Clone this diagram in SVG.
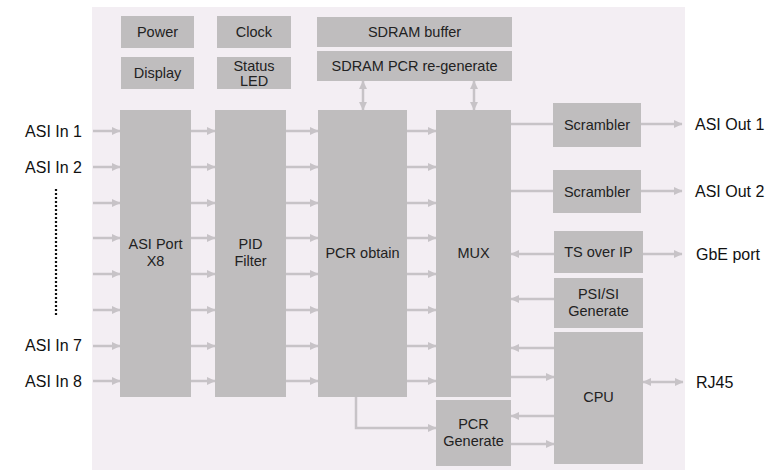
<svg xmlns="http://www.w3.org/2000/svg" width="776" height="471" viewBox="0 0 776 471">
<defs>
<style>
.box{fill:#bfbdbe}
.t{font-family:"Liberation Sans",Arial,sans-serif;font-size:14.5px;fill:#222;text-anchor:middle}
.o{font-family:"Liberation Sans",Arial,sans-serif;font-size:16px;fill:#111}
.c{stroke:#c7c3c7;stroke-width:2.5;fill:none}
.a{marker-end:url(#ah)}
.b{marker-start:url(#ah);marker-end:url(#ah)}
</style>
<marker id="ah" markerUnits="userSpaceOnUse" markerWidth="9" markerHeight="9" refX="8" refY="4.5" orient="auto-start-reverse">
<path d="M0,0.5 L8.5,4.5 L0,8.5 Z" fill="#c7c3c7"/>
</marker>
</defs>
<rect x="0" y="0" width="776" height="471" fill="#fff"/>
<rect x="92" y="7" width="593" height="463" fill="#f3eef3"/>

<g id="power"><rect class="box" x="121" y="16" width="73" height="32"/><text class="t" x="157.5" y="37">Power</text></g>
<g id="display"><rect class="box" x="121" y="57" width="73" height="32"/><text class="t" x="157.5" y="78">Display</text></g>
<g id="clock"><rect class="box" x="217" y="16" width="74" height="32"/><text class="t" x="254" y="37">Clock</text></g>
<g id="status-led"><rect class="box" x="217" y="57" width="74" height="32"/><text class="t" x="254" y="70.5">Status</text><text class="t" x="254" y="85.5">LED</text></g>
<g id="sdram-buffer"><rect class="box" x="317" y="17" width="195" height="30"/><text class="t" x="414.5" y="37">SDRAM buffer</text></g>
<g id="sdram-pcr"><rect class="box" x="317" y="51" width="195" height="30"/><text class="t" x="414.5" y="71">SDRAM PCR re-generate</text></g>

<g id="asi-port"><rect class="box" x="120" y="110" width="71" height="287"/><text class="t" x="155.5" y="249">ASI Port</text><text class="t" x="155.5" y="266">X8</text></g>
<g id="pid-filter"><rect class="box" x="215" y="110" width="71" height="287"/><text class="t" x="250.5" y="249">PID</text><text class="t" x="250.5" y="266">Filter</text></g>
<g id="pcr-obtain"><rect class="box" x="318" y="110" width="89" height="287"/><text class="t" x="362.5" y="258">PCR obtain</text></g>
<g id="mux"><rect class="box" x="436" y="110" width="75" height="287"/><text class="t" x="473.5" y="258">MUX</text></g>
<g id="pcr-generate"><rect class="box" x="436" y="400" width="75" height="66"/><text class="t" x="473.5" y="429">PCR</text><text class="t" x="473.5" y="446">Generate</text></g>

<g id="scrambler1"><rect class="box" x="553" y="103" width="88" height="44"/><text class="t" x="597" y="130">Scrambler</text></g>
<g id="scrambler2"><rect class="box" x="553" y="170" width="88" height="43"/><text class="t" x="597" y="196.5">Scrambler</text></g>
<g id="ts-over-ip"><rect class="box" x="554" y="231" width="89" height="42"/><text class="t" x="598.5" y="257">TS over IP</text></g>
<g id="psi-si"><rect class="box" x="554" y="278" width="89" height="50"/><text class="t" x="598.5" y="299">PSI/SI</text><text class="t" x="598.5" y="316">Generate</text></g>
<g id="cpu"><rect class="box" x="554" y="332" width="89" height="132"/><text class="t" x="598.5" y="402">CPU</text></g>

<g id="labels">
<text class="o" x="82" y="137" text-anchor="end">ASI In 1</text>
<text class="o" x="82" y="173" text-anchor="end">ASI In 2</text>
<text class="o" x="82" y="351" text-anchor="end">ASI In 7</text>
<text class="o" x="82" y="387" text-anchor="end">ASI In 8</text>
<text class="o" x="695" y="130">ASI Out 1</text>
<text class="o" x="695" y="197">ASI Out 2</text>
<text class="o" x="696" y="260">GbE port</text>
<text class="o" x="696" y="388">RJ45</text>
<line x1="56" y1="189" x2="56" y2="315" stroke="#111" stroke-width="2.2" stroke-dasharray="2,2"/>
</g>

<g id="connectors">
<g class="c a">
<line x1="93" y1="131" x2="120" y2="131"/><line x1="93" y1="167" x2="120" y2="167"/><line x1="93" y1="203" x2="120" y2="203"/><line x1="93" y1="238" x2="120" y2="238"/><line x1="93" y1="274" x2="120" y2="274"/><line x1="93" y1="310" x2="120" y2="310"/><line x1="93" y1="346" x2="120" y2="346"/><line x1="93" y1="381" x2="120" y2="381"/>
<line x1="191" y1="131" x2="215" y2="131"/><line x1="191" y1="167" x2="215" y2="167"/><line x1="191" y1="203" x2="215" y2="203"/><line x1="191" y1="238" x2="215" y2="238"/><line x1="191" y1="274" x2="215" y2="274"/><line x1="191" y1="310" x2="215" y2="310"/><line x1="191" y1="346" x2="215" y2="346"/><line x1="191" y1="381" x2="215" y2="381"/>
<line x1="286" y1="131" x2="318" y2="131"/><line x1="286" y1="167" x2="318" y2="167"/><line x1="286" y1="203" x2="318" y2="203"/><line x1="286" y1="238" x2="318" y2="238"/><line x1="286" y1="274" x2="318" y2="274"/><line x1="286" y1="310" x2="318" y2="310"/><line x1="286" y1="346" x2="318" y2="346"/><line x1="286" y1="381" x2="318" y2="381"/>
<line x1="407" y1="131" x2="436" y2="131"/><line x1="407" y1="167" x2="436" y2="167"/><line x1="407" y1="203" x2="436" y2="203"/><line x1="407" y1="238" x2="436" y2="238"/><line x1="407" y1="274" x2="436" y2="274"/><line x1="407" y1="310" x2="436" y2="310"/><line x1="407" y1="346" x2="436" y2="346"/><line x1="407" y1="381" x2="436" y2="381"/>
<line x1="641" y1="124" x2="682" y2="124"/>
<line x1="641" y1="191" x2="682" y2="191"/>
<line x1="643" y1="254" x2="682" y2="254"/>
<line x1="554" y1="254" x2="511" y2="254"/>
<line x1="554" y1="299" x2="511" y2="299"/>
<line x1="554" y1="348" x2="511" y2="348"/>
<line x1="511" y1="377" x2="554" y2="377"/>
<line x1="554" y1="416" x2="511" y2="416"/>
<line x1="511" y1="444" x2="554" y2="444"/>
<polyline points="356,397 356,428 436,428"/>
</g>
<g class="c">
<line x1="511" y1="124" x2="553" y2="124"/>
<line x1="511" y1="191" x2="553" y2="191"/>
</g>
<g class="c b">
<line x1="363" y1="81" x2="363" y2="110"/>
<line x1="474" y1="81" x2="474" y2="110"/>
<line x1="643" y1="382" x2="683" y2="382"/>
</g>
</g>
</svg>
